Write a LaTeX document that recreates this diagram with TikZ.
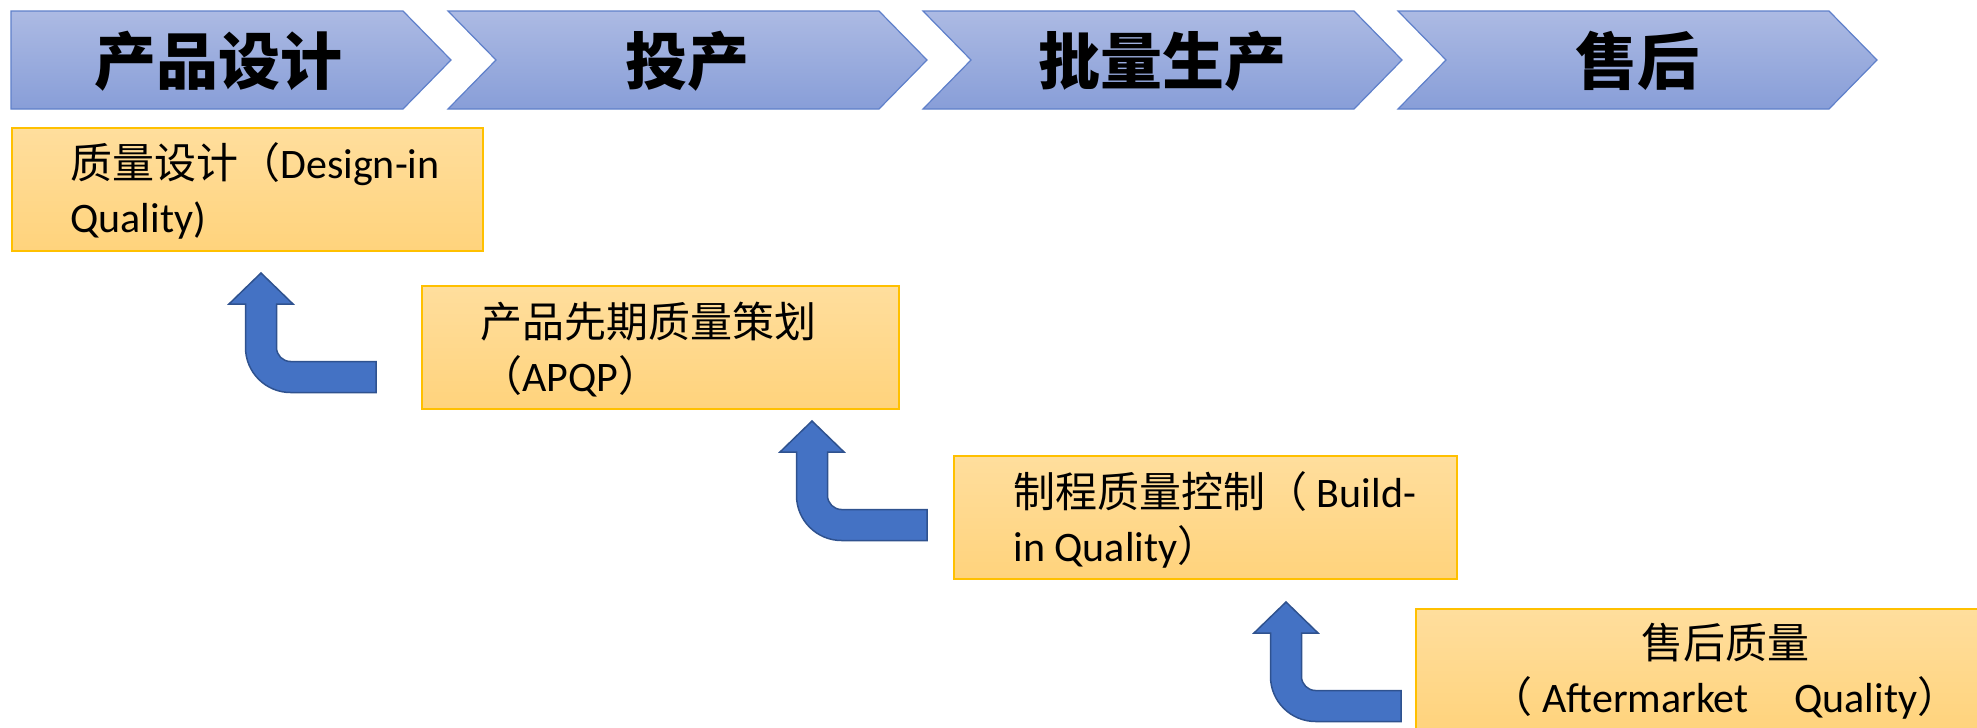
\documentclass[tikz,border=0pt]{standalone}
\usepackage{fontspec}
\setmainfont{Carlito}
\newfontfamily\cjk{Noto Sans CJK SC}
\definecolor{chevtop}{RGB}{172,186,227}
\definecolor{chevbot}{RGB}{136,158,216}
\definecolor{chevline}{RGB}{95,128,202}
\definecolor{boxtop}{RGB}{255,222,157}
\definecolor{boxbot}{RGB}{255,211,124}
\definecolor{boxline}{RGB}{255,192,0}
\definecolor{arrfill}{RGB}{68,114,196}
\definecolor{arrline}{RGB}{47,82,143}
\newcommand\mybarrow[1]{%
  \begin{scope}[shift={#1}]
    \path[barrow] (0,0) -- (32,31) -- (15.5,31) -- (15.5,74.5)
      .. controls (15.5,82.2) and (21.8,88.5) .. (29.5,88.5)
      -- (115,88.5) -- (115,119.5) -- (29.5,119.5)
      .. controls (4.7,119.5) and (-15.5,99.3) .. (-15.5,74.5)
      -- (-15.5,31) -- (-32,31) -- cycle;
  \end{scope}}
\begin{document}
\begin{tikzpicture}[x=0.5pt,y=-0.5pt,
  chev/.style={top color=chevtop,bottom color=chevbot,draw=chevline,line width=0.6pt,line join=miter},
  chevtext/.style={font=\cjk\bfseries\fontsize{31}{36}\selectfont,text=black,inner sep=0pt},
  qbox/.style={top color=boxtop,bottom color=boxbot,draw=boxline,line width=0.75pt,
    anchor=north west,inner sep=0pt,minimum height=61.5pt},
  qtext/.style={font=\fontsize{21}{27}\selectfont,text=black,inner sep=0pt},
  barrow/.style={fill=arrfill,draw=arrline,line width=0.75pt,line join=miter}]
\useasboundingbox (0,0) rectangle (1977,728);
\begin{scope}
\clip (0,0) rectangle (1977,728);
% chevrons
\path[chev] (11,11) -- (403,11) -- (451,60) -- (403,109) -- (11,109) -- cycle;
\path[chev] (448,11) -- (879,11) -- (927,60) -- (879,109) -- (448,109) -- (496,60) -- cycle;
\path[chev] (923,11) -- (1354,11) -- (1402,60) -- (1354,109) -- (923,109) -- (971,60) -- cycle;
\path[chev] (1398,11) -- (1829,11) -- (1877,60) -- (1829,109) -- (1398,109) -- (1446,60) -- cycle;
\node[chevtext] (c1) at (218,61) {产品设计};
\node[chevtext] (c2) at (687,61) {投产};
\node[chevtext] (c3) at (1162,61) {批量生产};
\node[chevtext] (c4) at (1637,61) {售后};
% boxes
\node[qbox,minimum width=235.5pt] (b1) at (11,127) {};
\node[qbox,minimum width=238.5pt] (b2) at (421,285) {};
\node[qbox,minimum width=251.5pt] (b3) at (953,455) {};
\node[qbox,minimum width=310pt] (b4) at (1415,608) {};
\node[qtext,anchor=west,align=left] (t1) at (70,191) {{\cjk 质量设计（}Design-in\\Quality)};
\node[qtext,anchor=west,align=left] (t2) at (480,349.5) {{\cjk 产品先期质量策划}\\{\cjk （}APQP{\cjk ）}};
\node[qtext,anchor=west,align=left] (t3) at (1013,519.5) {{\cjk 制程质量控制（} Build-\\in Quality{\cjk ）}};
\node[qtext,align=center] (t4) at (1725,671) {{\cjk 售后质量}\\{\cjk （} Aftermarket\hspace{23pt}Quality{\cjk ）}};
% block arrows
\mybarrow{(261,273)}
\mybarrow{(812,421)}
\mybarrow{(1286,602)}
\end{scope}
\end{tikzpicture}
\end{document}
